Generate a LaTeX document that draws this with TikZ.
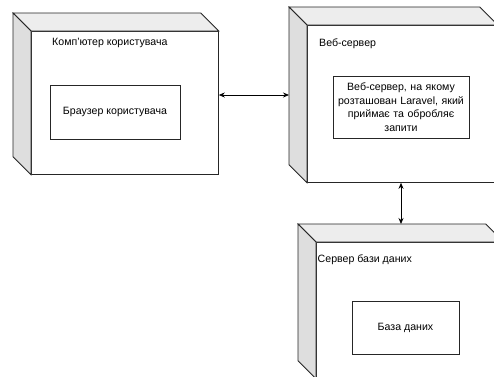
\documentclass[tikz,border=0pt]{standalone}
\usepackage{fontspec}
\setmainfont{Liberation Sans}
\usetikzlibrary{arrows.meta}
\tikzset{
  outline/.style={draw=black!85, line width=0.8pt, line join=miter},
  frontface/.style={outline, fill=white, rectangle, inner sep=0pt, anchor=north west},
  topface/.style={outline, fill=black!7},
  sideface/.style={outline, fill=black!13},
  innerbox/.style={outline, fill=white, rectangle, inner sep=2pt, align=center, font=\fontsize{10.6}{13.5}\selectfont},
  caption/.style={inner sep=0pt, anchor=west, font=\fontsize{10.6}{13}\selectfont},
  link/.style={draw=black, line width=0.8pt, {Stealth[length=6pt,width=5pt]}-{Stealth[length=6pt,width=5pt]}}
}
\begin{document}
\begin{tikzpicture}[x=1pt,y=-1pt]
\useasboundingbox (0,0) rectangle (494,376);
\clip (0,0) rectangle (494,376);
% cube 1
\node[frontface, minimum width=187pt, minimum height=143pt] (pcf) at (31,31) {};
\draw[topface] (pcf.north west) -- ([shift={(-18pt,18pt)}]pcf.north west) -- ([shift={(-18pt,18pt)}]pcf.north east) -- (pcf.north east) -- cycle;
\draw[sideface] (pcf.north west) -- ([shift={(-18pt,18pt)}]pcf.north west) -- ([shift={(-18pt,18pt)}]pcf.south west) -- (pcf.south west) -- cycle;
% cube 2
\node[frontface, minimum width=190pt, minimum height=157pt] (webf) at (307,25) {};
\draw[topface] (webf.north west) -- ([shift={(-18pt,18pt)}]webf.north west) -- ([shift={(-18pt,18pt)}]webf.north east) -- (webf.north east) -- cycle;
\draw[sideface] (webf.north west) -- ([shift={(-18pt,18pt)}]webf.north west) -- ([shift={(-18pt,18pt)}]webf.south west) -- (webf.south west) -- cycle;
% cube 3
\node[frontface, minimum width=187pt, minimum height=136pt] (dbf) at (316,242) {};
\draw[topface] (dbf.north west) -- ([shift={(-18pt,18pt)}]dbf.north west) -- ([shift={(-18pt,18pt)}]dbf.north east) -- (dbf.north east) -- cycle;
\draw[sideface] (dbf.north west) -- ([shift={(-18pt,18pt)}]dbf.north west) -- ([shift={(-18pt,18pt)}]dbf.south west) -- (dbf.south west) -- cycle;
\coordinate (dbtop) at ([shift={(0pt,18pt)}]dbf.north);
\coordinate (webleft) at ([shift={(-18pt,0pt)}]webf.west);
% captions
\node[caption] (pccap) at (52,43) {Комп'ютер користувача};
\node[caption] (webcap) at (319,44) {Веб-сервер};
\node[caption] (dbcap) at (317.5,260) {Сервер бази даних};
% inner boxes
\node[innerbox, minimum width=130pt, minimum height=54pt] (browser) at (115,112) {Браузер користувача};
\node[innerbox, minimum width=136pt, minimum height=62pt, text width=132pt] (laravel) at (401,107) {Веб-сервер, на якому\\розташован Laravel, який\\приймає та обробляє\\запити};
\node[innerbox, minimum width=107pt, minimum height=53pt] (db) at (405.5,327.5) {База даних};
% connectors
\coordinate (hy) at (0,95);
\coordinate (vx) at (401,0);
\draw[link] (pcf.east |- hy) -- (webleft |- hy);
\draw[link] (webf.south -| vx) -- (dbtop -| vx);
\end{tikzpicture}
\end{document}
